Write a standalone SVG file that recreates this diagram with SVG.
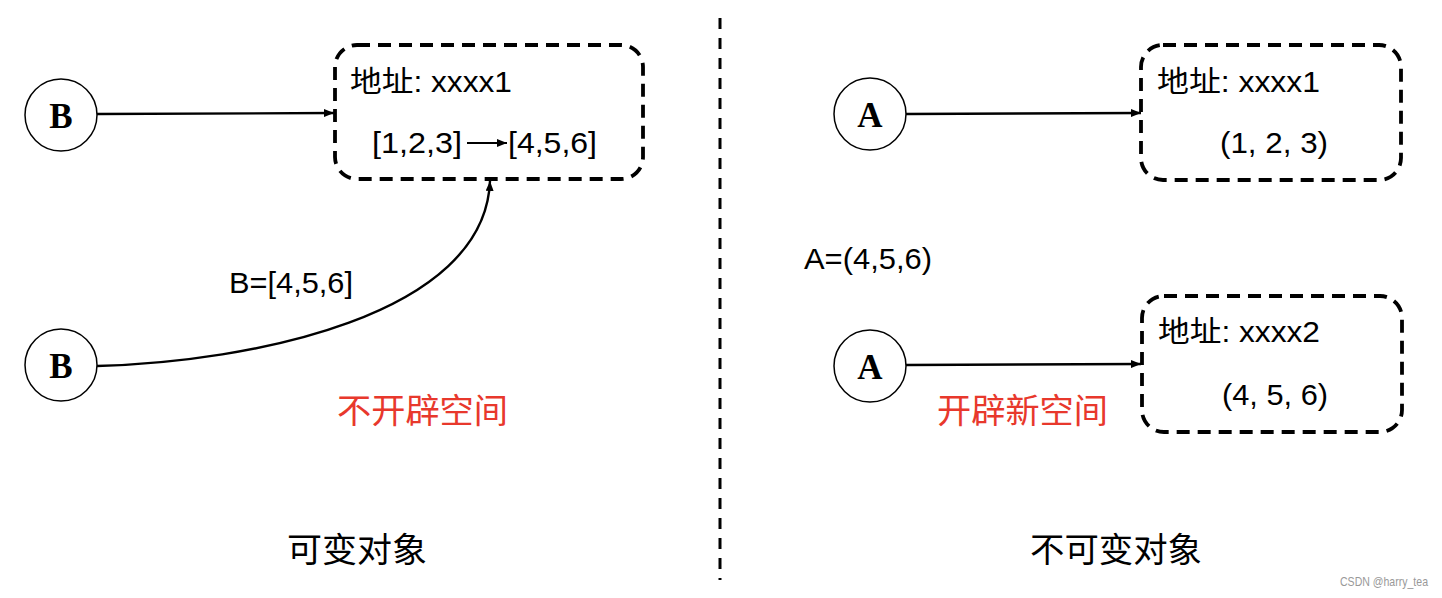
<svg xmlns="http://www.w3.org/2000/svg" width="1442" height="598" viewBox="0 0 1442 598">
<style>
.box{fill:none;stroke:#000;stroke-width:3.8;stroke-dasharray:13 8;}
.node{fill:#fff;stroke:#000;stroke-width:1.5;}
.nlabel{font-family:"Liberation Serif","Times New Roman",serif;font-weight:bold;font-size:35px;text-anchor:middle;fill:#000;}
.t{font-family:"Liberation Sans","Noto Sans CJK SC",sans-serif;fill:#000;}
.red{font-family:"Noto Sans CJK SC",sans-serif;font-size:34px;fill:#e8382c;}
.cap{font-family:"Noto Sans CJK SC",sans-serif;font-size:34px;fill:#000;}
.conn{fill:none;stroke:#000;stroke-width:2.4;}
</style>
<defs>
<marker id="arr" viewBox="0 0 10 8" refX="10" refY="4" markerWidth="10" markerHeight="8" markerUnits="userSpaceOnUse" orient="auto">
<path d="M0,0 L10,4 L0,8 z" fill="#000"/>
</marker>
</defs>
<rect width="1442" height="598" fill="#fff"/>

<line x1="720" y1="18" x2="720" y2="580" stroke="#000" stroke-width="3" stroke-dasharray="11 9"/>

<g id="box-left">
<rect class="box" x="335" y="45" width="308" height="134" rx="22" ry="22"/>
<text class="t" x="350" y="92" font-size="29" textLength="162" lengthAdjust="spacingAndGlyphs">地址: xxxx1</text>
<text class="t" x="372" y="153" font-size="30" textLength="90" lengthAdjust="spacingAndGlyphs">[1,2,3]</text>
<line x1="467" y1="143" x2="507" y2="143" stroke="#000" stroke-width="2.2" marker-end="url(#arr)"/>
<text class="t" x="508" y="153" font-size="30" textLength="89" lengthAdjust="spacingAndGlyphs">[4,5,6]</text>
</g>

<g id="box-right1">
<rect class="box" x="1141" y="45" width="260" height="135" rx="22" ry="22"/>
<text class="t" x="1157" y="92" font-size="29" textLength="163" lengthAdjust="spacingAndGlyphs">地址: xxxx1</text>
<text class="t" x="1220" y="153" font-size="30" textLength="108" lengthAdjust="spacingAndGlyphs">(1, 2, 3)</text>
</g>

<g id="box-right2">
<rect class="box" x="1142" y="296" width="260" height="136" rx="22" ry="22"/>
<text class="t" x="1158" y="342" font-size="29" textLength="162" lengthAdjust="spacingAndGlyphs">地址: xxxx2</text>
<text class="t" x="1222" y="405" font-size="30" textLength="106" lengthAdjust="spacingAndGlyphs">(4, 5, 6)</text>
</g>

<g id="node-B1">
<circle class="node" cx="61" cy="115" r="36"/>
<text class="nlabel" x="61" y="128">B</text>
</g>
<g id="node-B2">
<circle class="node" cx="61" cy="365" r="36"/>
<text class="nlabel" x="61" y="378">B</text>
</g>
<g id="node-A1">
<circle class="node" cx="870" cy="114" r="36"/>
<text class="nlabel" x="870" y="127">A</text>
</g>
<g id="node-A2">
<circle class="node" cx="870" cy="366" r="36"/>
<text class="nlabel" x="870" y="379">A</text>
</g>

<g id="connectors">
<path class="conn" d="M97,114 L334,113" marker-end="url(#arr)"/>
<path class="conn" d="M97,366 C250,362 485,316 490,181" marker-end="url(#arr)"/>
<path class="conn" d="M906,114 L1141,113" marker-end="url(#arr)"/>
<path class="conn" d="M906,365 L1141,364" marker-end="url(#arr)"/>
</g>

<text class="t" x="229" y="293" font-size="30" textLength="124" lengthAdjust="spacingAndGlyphs">B=[4,5,6]</text>
<text class="t" x="804" y="269" font-size="30" textLength="128" lengthAdjust="spacingAndGlyphs">A=(4,5,6)</text>

<text class="red" x="337" y="423" textLength="171" lengthAdjust="spacingAndGlyphs">不开辟空间</text>
<text class="red" x="937" y="423" textLength="171" lengthAdjust="spacingAndGlyphs">开辟新空间</text>

<text class="cap" x="287" y="562" textLength="140" lengthAdjust="spacingAndGlyphs">可变对象</text>
<text class="cap" x="1030" y="562" textLength="172" lengthAdjust="spacingAndGlyphs">不可变对象</text>

<text x="1340" y="586" font-family="'Liberation Sans',sans-serif" font-size="13" fill="#999" textLength="88" lengthAdjust="spacingAndGlyphs">CSDN @harry_tea</text>
</svg>
